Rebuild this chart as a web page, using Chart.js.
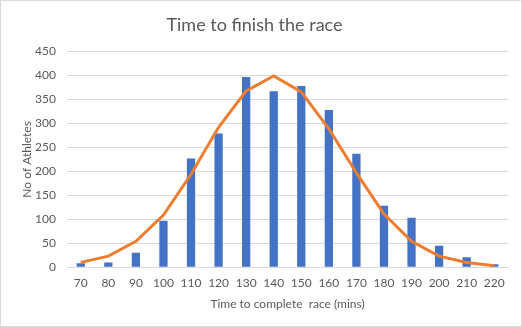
<!DOCTYPE html>
<html lang="en">
<head>
  <meta charset="UTF-8" />
  <title>Time to finish the race</title>
  <script src="https://cdn.jsdelivr.net/npm/chart.js"></script>
  <style>
    html, body { margin: 0; padding: 0; background: #fff; }
    .chart-box {
      width: 522px;
      height: 327px;
      box-sizing: border-box;
      border: 1px solid #d9d9d9;
      position: relative;
    }
  </style>
</head>
<body>
  <div class="chart-box">
    <canvas id="raceChart"></canvas>
  </div>

  <script>
    const categories = ['70', '80', '90', '100', '110', '120', '130', '140', '150', '160', '170', '180', '190', '200', '210', '220'];
    const athleteCounts = [8, 10, 30, 97, 227, 279, 397, 367, 378, 328, 237, 128, 103, 45, 21, 6];
    const normalCurve = [10, 23, 54, 109, 194, 292, 368, 399, 366, 289, 197, 111, 54, 23, 10, 3];

    const textColor = '#595959';
    const fontFamily = "Lato, 'Open Sans', sans-serif";

    const ctx = document.getElementById('raceChart').getContext('2d');

    new Chart(ctx, {
      data: {
        labels: categories,
        datasets: [
          {
            type: 'line',
            label: 'Normal',
            data: normalCurve,
            borderColor: '#ed7d31',
            borderWidth: 3,
            pointRadius: 0,
            tension: 0,
            fill: false,
            order: 0
          },
          {
            type: 'bar',
            label: 'Athletes',
            data: athleteCounts,
            backgroundColor: '#4472c4',
            barPercentage: 0.3,
            categoryPercentage: 1,
            order: 1
          }
        ]
      },
      options: {
        responsive: true,
        maintainAspectRatio: false,
        animation: false,
        layout: { padding: { left: 0, right: 13, top: 6, bottom: 15 } },
        plugins: {
          legend: { display: false },
          tooltip: { enabled: false },
          title: {
            display: true,
            text: 'Time to finish the race',
            color: textColor,
            font: { family: fontFamily, size: 18, weight: 'normal' },
            padding: { top: 7, bottom: 16 }
          }
        },
        scales: {
          x: {
            offset: true,
            grid: { display: false, drawTicks: false },
            border: { display: true, color: '#d9d9d9', width: 1 },
            ticks: {
              color: textColor,
              font: { family: fontFamily, size: 12 },
              padding: 9,
              maxRotation: 0,
              autoSkip: false
            },
            title: {
              display: true,
              text: 'Time to complete  race (mins)',
              color: textColor,
              font: { family: fontFamily, size: 12 },
              padding: { top: -3, bottom: 0 }
            }
          },
          y: {
            min: 0,
            max: 450,
            afterFit: (scale) => { scale.width = 66; },
            grid: { color: '#d9d9d9', drawTicks: false },
            border: { display: false },
            ticks: {
              stepSize: 50,
              color: textColor,
              font: { family: fontFamily, size: 12 },
              padding: 11
            },
            title: {
              display: true,
              text: 'No of Athletes',
              color: textColor,
              font: { family: fontFamily, size: 12 },
              padding: { top: 19, bottom: 0 }
            }
          }
        }
      }
    });
  </script>
</body>
</html>
